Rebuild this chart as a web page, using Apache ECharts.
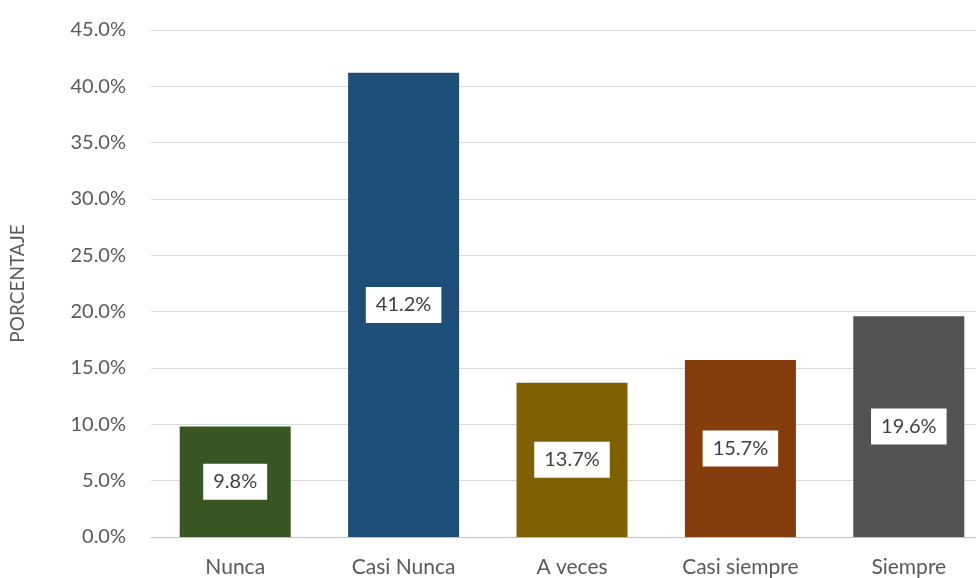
<!DOCTYPE html>
<html>
<head>
<meta charset="utf-8">
<script src="https://cdn.jsdelivr.net/npm/echarts@6/dist/echarts.min.js"></script>
<style>
html,body{margin:0;padding:0;background:#fff;overflow:hidden;width:976px;height:578px;}
#chart{width:993px;height:578px;}
</style>
</head>
<body>
<div id="chart"></div>
<script>
var categories = ['Nunca', 'Casi Nunca', 'A veces', 'Casi siempre', 'Siempre'];
var values = [9.8, 41.2, 13.7, 15.7, 19.6];
var barColors = ['#375623', '#1f4e79', '#7f6000', '#843c0c', '#525252'];
var yAxisName = 'PORCENTAJE';

var chart = echarts.init(document.getElementById('chart'));
var font = 'Lato, "Open Sans", sans-serif';
chart.setOption({
  animation: false,
  grid: { left: 148, top: 30, bottom: 41, right: 0, containLabel: false },
  xAxis: {
    type: 'category',
    data: categories,
    axisLine: { lineStyle: { color: '#bfbfbf', width: 1 } },
    axisTick: { show: false },
    axisLabel: { color: '#595959', fontSize: 21, fontFamily: font, margin: 20 }
  },
  yAxis: {
    type: 'value',
    min: 0, max: 45, interval: 5,
    name: yAxisName,
    nameLocation: 'middle',
    nameGap: 124,
    nameRotate: 90,
    nameTextStyle: { color: '#595959', fontSize: 19, fontFamily: font },
    axisLine: { show: false },
    axisTick: { show: false },
    splitLine: { lineStyle: { color: '#d9d9d9', width: 1 } },
    axisLabel: {
      color: '#595959', fontSize: 20, fontFamily: font, margin: 25,
      formatter: function (v) { return v.toFixed(1) + '%'; }
    }
  },
  series: [{
    type: 'bar',
    barWidth: 111,
    data: values.map(function (v, i) {
      return { value: v, itemStyle: { color: barColors[i] } };
    }),
    label: {
      show: true,
      position: 'inside',
      formatter: function (p) { return p.value.toFixed(1) + '%'; },
      backgroundColor: '#ffffff',
      color: '#404040',
      fontSize: 20,
      fontFamily: font,
      padding: [8, 10, 8, 10]
    }
  }]
});
</script>
</body>
</html>
